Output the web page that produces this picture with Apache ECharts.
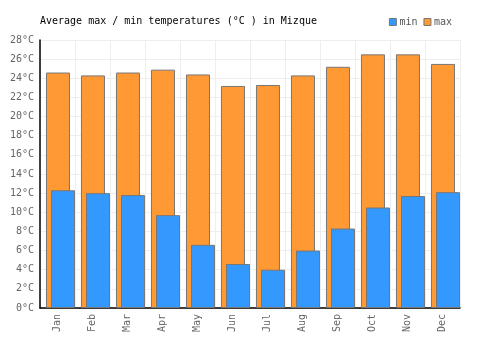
<!DOCTYPE html>
<html>
<head>
<meta charset="utf-8">
<script src="https://cdn.jsdelivr.net/npm/echarts@6/dist/echarts.min.js"></script>
<style>html,body{margin:0;padding:0;background:#fff}#c{width:500px;height:350px}</style>
</head>
<body>
<div id="c"></div>
<script>
var categories = ['Jan','Feb','Mar','Apr','May','Jun','Jul','Aug','Sep','Oct','Nov','Dec'];
var minTemps = [12.3, 12.0, 11.8, 9.7, 6.6, 4.6, 4.0, 6.0, 8.3, 10.5, 11.7, 12.1];
var maxTemps = [24.6, 24.3, 24.6, 24.9, 24.4, 23.2, 23.3, 24.3, 25.2, 26.5, 26.5, 25.5];
var titleText = 'Average max / min temperatures (°C ) in Mizque';

var FONT = '"DejaVu Sans Mono", monospace';
var chart = echarts.init(document.getElementById('c'), null, {renderer: 'canvas'});
chart.setOption({
  animation: false,
  backgroundColor: '#fff',
  title: {
    text: titleText,
    left: 35, top: 11,
    textStyle: {fontFamily: FONT, fontSize: 10, fontWeight: 'normal', color: '#000'}
  },
  legend: {
    data: ['min', 'max'],
    right: 43, top: 12,
    icon: 'rect',
    itemWidth: 7, itemHeight: 7, itemGap: 6,
    textStyle: {fontFamily: FONT, fontSize: 10, color: '#555', padding: [0, 0, 0, -2]},
    itemStyle: {borderColor: '#777', borderWidth: 1}
  },
  grid: {left: 40, right: 40, top: 40, bottom: 42, containLabel: false},
  xAxis: {
    type: 'category',
    data: categories,
    boundaryGap: true,
    axisLine: {show: true, lineStyle: {color: '#000', width: 1.5}},
    axisTick: {show: false},
    splitLine: {show: true, interval: 0, lineStyle: {color: '#eee', width: 1}},
    axisLabel: {rotate: 90, interval: 0, margin: 6, fontFamily: FONT, fontSize: 10, color: '#666'}
  },
  yAxis: {
    type: 'value',
    min: 0, max: 28, interval: 2,
    axisLine: {show: true, lineStyle: {color: '#000', width: 1.5}},
    axisTick: {show: false},
    splitLine: {show: true, lineStyle: {color: '#eee', width: 1}},
    axisLabel: {formatter: '{value}°C', margin: 6, fontFamily: FONT, fontSize: 10, color: '#666'}
  },
  series: [
    {
      name: 'max', type: 'bar', data: maxTemps,
      barWidth: 24,
      itemStyle: {color: '#FF9933', borderColor: '#777', borderWidth: 1}
    },
    {
      name: 'min', type: 'bar', data: minTemps,
      barWidth: 24,
      itemStyle: {color: '#3399FF', borderColor: '#777', borderWidth: 1}
    },
    {
      name: 'spacer', type: 'bar', data: [], silent: true,
      barWidth: 13, barGap: '-79%'
    }
  ]
});
</script>
</body>
</html>
